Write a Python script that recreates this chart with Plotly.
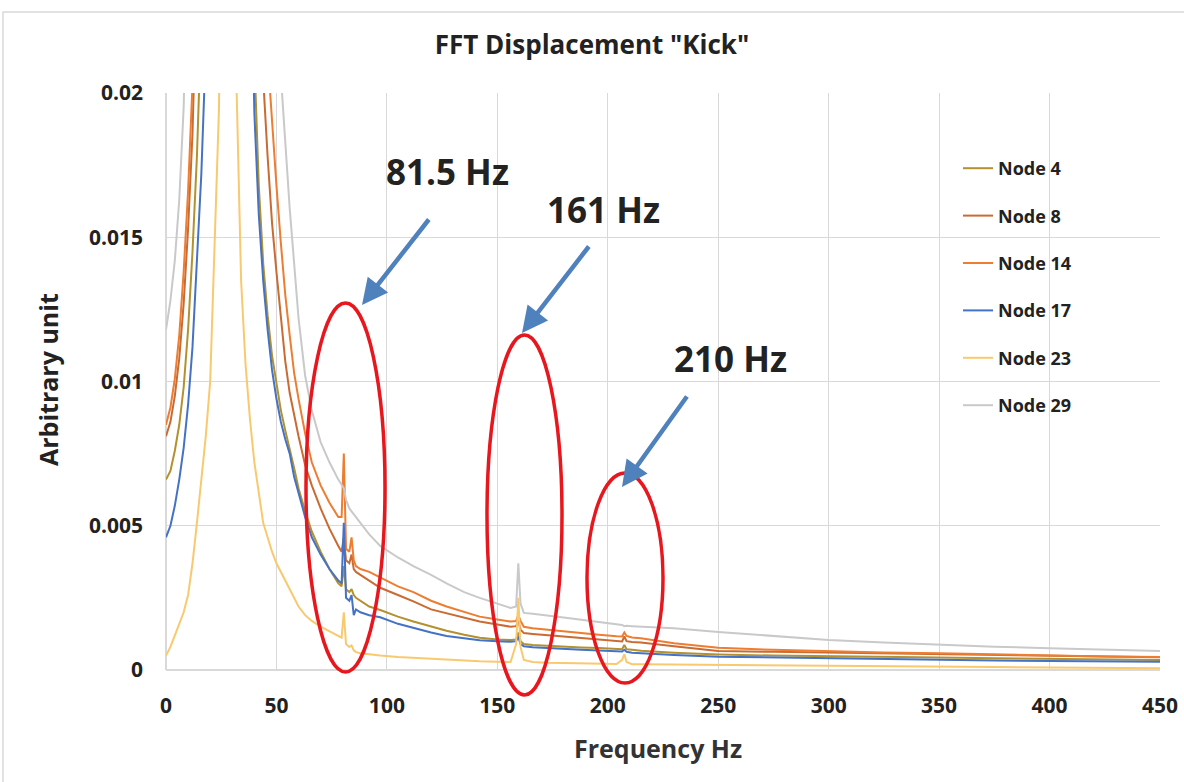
import plotly.graph_objects as go

# ---------------- data ----------------
freq_hz = [
    0, 2, 4, 6, 8, 10, 12, 14, 16, 18,
    20, 22, 24, 26, 28, 30, 32, 34, 36, 38,
    40, 42, 44, 46, 48, 50, 52, 54, 56, 58,
    60, 63, 66, 70, 74, 78, 79.5, 80.5, 81.5, 83,
    84, 85, 86, 88, 92, 97, 105, 112, 120, 127,
    135, 142, 150, 156, 158.5, 159.5, 160.5, 162, 166, 172,
    180, 188, 196, 204, 206.5, 207.5, 208.5, 211, 215, 230,
    250, 275, 300, 325, 350, 375, 400, 425, 450,
]

node_4 = [
    0.0066, 0.0069, 0.0076, 0.0085, 0.0098, 0.0118, 0.0145, 0.0178, 0.0225, 0.030,
    0.045, 0.07, 0.10, 0.14, 0.17, 0.16, 0.12, 0.08, 0.048, 0.029,
    0.0212, 0.0168, 0.0141, 0.0123, 0.0109, 0.0099, 0.0090, 0.0083, 0.0077, 0.0070,
    0.0063, 0.0055, 0.0048, 0.0041, 0.0035, 0.0030, 0.0029, 0.0036, 0.0028, 0.0027,
    0.0028, 0.0026, 0.0025, 0.0024, 0.0022, 0.00208, 0.00185, 0.00168, 0.0015, 0.00136,
    0.00122, 0.00112, 0.00106, 0.00104, 0.00106, 0.0013, 0.0010, 0.0009, 0.00087, 0.00084,
    0.00081, 0.00078, 0.00076, 0.00073, 0.00072, 0.00087, 0.00072, 0.0007, 0.00067, 0.0006,
    0.00054, 0.0005, 0.00047, 0.00045, 0.00043, 0.00041, 0.00039, 0.00037, 0.00035,
]

node_8 = [
    0.0081, 0.0086, 0.0095, 0.0108, 0.0127, 0.0153, 0.0186, 0.0228, 0.030, 0.042,
    0.06, 0.09, 0.12, 0.16, 0.19, 0.18, 0.14, 0.10, 0.07, 0.045,
    0.032, 0.025, 0.0205, 0.0178, 0.0155, 0.0138, 0.0122, 0.0107, 0.0096, 0.0088,
    0.0081, 0.0071, 0.0064, 0.0056, 0.0049, 0.0043, 0.0041, 0.0046, 0.0038, 0.0037,
    0.0040, 0.0035, 0.0034, 0.0033, 0.0031, 0.00285, 0.0026, 0.00238, 0.0021, 0.00197,
    0.0018, 0.00168, 0.00158, 0.0015, 0.00152, 0.0017, 0.0014, 0.00128, 0.00125, 0.00122,
    0.00116, 0.00111, 0.00106, 0.0010, 0.00099, 0.00116, 0.0010, 0.00097, 0.00095, 0.00082,
    0.00066, 0.00063, 0.0006, 0.00057, 0.00055, 0.00052, 0.00049, 0.00046, 0.00044,
]

node_14 = [
    0.0085, 0.0091, 0.0101, 0.0116, 0.0138, 0.0166, 0.0203, 0.025, 0.034, 0.048,
    0.065, 0.095, 0.13, 0.17, 0.20, 0.19, 0.15, 0.11, 0.08, 0.055,
    0.038, 0.029, 0.024, 0.0213, 0.019, 0.0168, 0.0148, 0.0130, 0.0116, 0.0103,
    0.0094, 0.0082, 0.0072, 0.0064, 0.0058, 0.0053, 0.0053, 0.0075, 0.0042, 0.0041,
    0.0046, 0.0038, 0.0036, 0.0035, 0.0034, 0.0032, 0.0029, 0.0027, 0.0024, 0.0022,
    0.0020, 0.00185, 0.00175, 0.00168, 0.0017, 0.0019, 0.0017, 0.0015, 0.00145, 0.0014,
    0.00133, 0.00127, 0.00122, 0.00117, 0.00116, 0.0013, 0.00118, 0.00113, 0.0011, 0.00093,
    0.00077, 0.0007, 0.00065, 0.00061, 0.00058, 0.00054, 0.0005, 0.00047, 0.00045,
]

node_17 = [
    0.0046, 0.0050, 0.0057, 0.0066, 0.0077, 0.0092, 0.0112, 0.0140, 0.0172, 0.0215,
    0.030, 0.045, 0.07, 0.10, 0.13, 0.12, 0.09, 0.06, 0.04, 0.027,
    0.0193, 0.0158, 0.0135, 0.0118, 0.0104, 0.0094, 0.0086, 0.0080, 0.0075, 0.0067,
    0.0061, 0.0053, 0.0046, 0.0040, 0.0035, 0.0031, 0.0030, 0.0051, 0.0025, 0.0024,
    0.0026, 0.0019, 0.0021, 0.0020, 0.0019, 0.00183, 0.0016, 0.00145, 0.0013, 0.00118,
    0.0011, 0.00103, 0.0010, 0.00098, 0.0010, 0.00115, 0.0009, 0.00082, 0.00079, 0.00076,
    0.00073, 0.0007, 0.00068, 0.00065, 0.00064, 0.0007, 0.00063, 0.0006, 0.00058, 0.00052,
    0.00046, 0.00043, 0.0004, 0.00038, 0.00035, 0.00033, 0.00031, 0.0003, 0.00029,
]

node_23 = [
    0.0005, 0.0008, 0.0012, 0.0016, 0.0020, 0.0026, 0.0037, 0.0051, 0.0065, 0.0081,
    0.0100, 0.0145, 0.0195, 0.035, 0.06, 0.045, 0.0200, 0.0135, 0.0106, 0.0087,
    0.0072, 0.0061, 0.0051, 0.0046, 0.0041, 0.0037, 0.0034, 0.0031, 0.0028, 0.0025,
    0.0022, 0.0019, 0.0017, 0.0015, 0.00135, 0.0012, 0.00112, 0.0020, 0.0009, 0.0008,
    0.00085, 0.00068, 0.00062, 0.00058, 0.00054, 0.0005, 0.00045, 0.00042, 0.00038, 0.00035,
    0.00032, 0.0003, 0.00029, 0.00028, 0.0009, 0.0025, 0.0008, 0.00035, 0.00028, 0.00025,
    0.00024, 0.00023, 0.00022, 0.00021, 0.00035, 0.00055, 0.00028, 0.0002, 0.0002, 0.00019,
    0.00017, 0.00015, 0.00013, 0.00012, 0.00011, 0.0001, 0.00009, 0.00007, 0.00006,
]

node_29 = [
    0.0118, 0.0128, 0.0142, 0.0163, 0.0195, 0.024, 0.030, 0.040, 0.055, 0.075,
    0.10, 0.13, 0.16, 0.20, 0.23, 0.22, 0.19, 0.15, 0.11, 0.08,
    0.06, 0.046, 0.037, 0.031, 0.027, 0.0235, 0.0206, 0.0183, 0.0160, 0.0141,
    0.0122, 0.0102, 0.0090, 0.0079, 0.0072, 0.0066, 0.0064, 0.0063, 0.0059, 0.0056,
    0.0055, 0.0054, 0.0053, 0.0051, 0.0047, 0.0043, 0.0039, 0.0036, 0.0033, 0.0030,
    0.0027, 0.0025, 0.0023, 0.00215, 0.0022, 0.0037, 0.0023, 0.00198, 0.00195, 0.0019,
    0.00182, 0.00174, 0.00166, 0.00158, 0.00156, 0.00152, 0.00153, 0.00152, 0.0015, 0.00145,
    0.00132, 0.00118, 0.00104, 0.00095, 0.00087, 0.00081, 0.00075, 0.0007, 0.00066,
]

series_names = ["Node 4", "Node 8", "Node 14", "Node 17", "Node 23", "Node 29"]
series_values = [node_4, node_8, node_14, node_17, node_23, node_29]
series_colors = ["#B3912F", "#C96B32", "#ED7D31", "#4472C4", "#F9C96E", "#C9C9C9"]

x_ticks = [0, 50, 100, 150, 200, 250, 300, 350, 400, 450]
y_ticks = [0, 0.005, 0.01, 0.015, 0.02]
y_tick_labels = ["0", "0.005", "0.01", "0.015", "0.02"]

peak_labels = ["81.5 Hz", "161 Hz", "210 Hz"]

# ---------------- figure ----------------
W, H = 1184, 782
L, R, T, B = 166, 24, 93, 112
PW, PH = W - L - R, H - T - B


def px(xp):
    return (xp - L) / PW


def py(yp):
    return (H - B - yp) / PH


FONT = "Open Sans, Lato, DejaVu Sans, sans-serif"

fig = go.Figure()
for i, (name, vals, col) in enumerate(zip(series_names, series_values, series_colors)):
    fig.add_trace(go.Scatter(
        x=freq_hz, y=vals, mode="lines", name=name,
        line=dict(color=col, width=2),
        legendgroup=f"g{i}",
    ))

grid_col = "#D9D9D9"
fig.update_xaxes(
    range=[0, 450], tickvals=x_ticks, showgrid=True, gridcolor=grid_col, gridwidth=1,
    zeroline=True, zerolinecolor=grid_col, showline=False,
    tickfont=dict(family=FONT, size=21, color="#222222", weight="bold"),
    ticks="", ticklabelstandoff=21,
)
fig.update_yaxes(
    range=[0, 0.02], tickvals=y_ticks, ticktext=y_tick_labels, showgrid=True,
    gridcolor=grid_col, gridwidth=1, zeroline=True, zerolinecolor=grid_col,
    showline=False,
    tickfont=dict(family=FONT, size=21, color="#222222", weight="bold"),
    ticks="", ticklabelstandoff=22,
)

annotations = []
# axis titles
annotations.append(dict(text="Frequency Hz", xref="paper", yref="paper",
                        x=px(658), y=py(748), xanchor="center", yanchor="middle",
                        showarrow=False,
                        font=dict(family=FONT, size=25, color="#333333", weight="bold")))
annotations.append(dict(text="Arbitrary unit", xref="paper", yref="paper",
                        x=px(48), y=py(380), xanchor="center", yanchor="middle",
                        showarrow=False, textangle=-90,
                        font=dict(family=FONT, size=25, color="#222222", weight="bold")))

# peak labels and arrows
label_pos = [(447, 172), (603, 210), (730, 358)]
arrows = [((430, 218), (362, 305)), ((590, 245), (522, 333)), ((688, 395), (622, 487))]
for txt, (lx, ly) in zip(peak_labels, label_pos):
    annotations.append(dict(text=txt, xref="paper", yref="paper", x=px(lx), y=py(ly),
                            xanchor="center", yanchor="middle", showarrow=False,
                            font=dict(family=FONT, size=35, color="#222222", weight="bold")))
for (tail, head) in arrows:
    annotations.append(dict(text="", xref="paper", yref="paper",
                            x=px(head[0]), y=py(head[1]),
                            ax=tail[0] - head[0], ay=tail[1] - head[1],
                            showarrow=True, arrowhead=2, arrowsize=1.15, arrowwidth=4.5,
                            arrowcolor="#4F81BD", standoff=0, startstandoff=0))

shapes = []
ellipses = [(306, 303, 385, 672), (487, 335, 562, 695), (587, 473, 663, 683)]
for (x0, y0, x1, y1) in ellipses:
    shapes.append(dict(type="circle", xref="paper", yref="paper",
                       x0=px(x0), x1=px(x1), y0=py(y1), y1=py(y0),
                       line=dict(color="#E8171E", width=3.5)))
# outer chart frame
shapes.append(dict(type="rect", xref="paper", yref="paper",
                   x0=px(3), x1=px(1200), y0=py(800), y1=py(12),
                   line=dict(color="#D9D9D9", width=1.5), layer="below"))

fig.update_layout(
    width=W, height=H,
    margin=dict(l=L, r=R, t=T, b=B, autoexpand=False),
    paper_bgcolor="white", plot_bgcolor="white",
    title=dict(text='FFT Displacement "Kick"', x=0.5, xanchor="center",
               y=1 - 45 / H, yanchor="middle",
               font=dict(family=FONT, size=26, color="#222222", weight="bold")),
    showlegend=True,
    legend=dict(x=px(958), y=py(150), xanchor="left", yanchor="top",
                bgcolor="rgba(0,0,0,0)", tracegroupgap=21,
                font=dict(family=FONT, size=18, color="#222222", weight="bold"),
                itemwidth=30),
    annotations=annotations,
    shapes=shapes,
)

fig.write_html("out.html")
